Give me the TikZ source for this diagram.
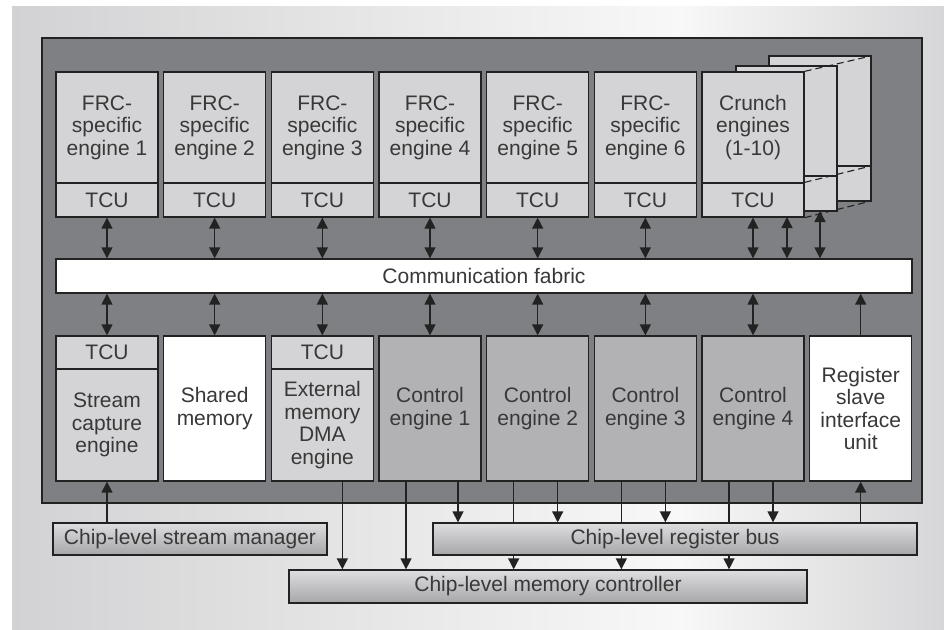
\documentclass[tikz,border=0pt]{standalone}
\usepackage{fontspec}
\setmainfont{Liberation Sans}
\usetikzlibrary{arrows.meta,calc}
\definecolor{bgL}{HTML}{D2D2D4}
\definecolor{bgM}{HTML}{F8F8F8}
\definecolor{bgR}{HTML}{D6D6D8}
\definecolor{panel}{HTML}{7F8084}
\definecolor{lightbox}{HTML}{D4D4D6}
\definecolor{midbox}{HTML}{B2B2B5}
\definecolor{ink}{HTML}{222222}
\definecolor{txt}{HTML}{383838}
\definecolor{busT}{HTML}{DEDEE0}
\definecolor{busB}{HTML}{A6A6A9}
\begin{document}
\begin{tikzpicture}[x=1pt,y=-1pt,
  box/.style={draw=ink, line width=1.3pt, inner sep=0pt, align=center, text=txt,
    font=\fontsize{21}{22.5}\selectfont},
  lbox/.style={box, fill=lightbox},
  wbox/.style={box, fill=white},
  mbox/.style={box, fill=midbox},
  bus/.style={box, top color=busT, bottom color=busB},
  upper/.style={minimum width=102pt, minimum height=111pt},
  tcu/.style={minimum width=102pt, minimum height=34pt},
  tcub/.style={minimum width=102pt, minimum height=33pt},
  body/.style={minimum width=102pt, minimum height=112pt},
  full/.style={minimum width=102pt, minimum height=145pt},
  arr/.style={draw=ink, line width=1.4pt, -{Triangle[length=11pt,width=11pt]}},
  dbl/.style={draw=ink, line width=1.4pt, {Triangle[length=11pt,width=11pt]}-{Triangle[length=11pt,width=11pt]}},
  back/.style={draw=ink, line width=1.3pt, fill=lightbox},
  persp/.style={draw=ink, line width=1.1pt, dash pattern=on 7pt off 4pt}
]
\useasboundingbox (0,0) rectangle (944,629);
% background
\fill[left color=bgL, right color=bgM] (12,6) rectangle (680,629);
\fill[left color=bgM, right color=bgR] (679.5,6) rectangle (944,629);
% panel
\draw[ink, line width=1.3pt, fill=panel] (42,38) rectangle (922,503);

% stacked crunch engines (back copies)
\draw[back] (769,56) rectangle (871,201);
\draw[ink, line width=1.3pt] (769,166) -- (871,166);
\draw[back] (736,66) rectangle (837,211);
\draw[ink, line width=1.3pt] (736,176) -- (837,176);

% top row
\foreach \i in {1,...,6} {
  \pgfmathsetmacro\cx{107+(\i-1)*107.67}
  \node[lbox, upper] (e\i) at (\cx,127.5) {FRC-\\specific\\engine \i};
  \node[lbox, tcu] (t\i) at (\cx,200) {TCU};
}
\node[lbox, upper] (e7) at (753,127.5) {Crunch\\engines\\(1-10)};
\node[lbox, tcu] (t7) at (753,200) {TCU};

% perspective lines
\draw[persp] (e7.north east) -- (871,56);
\draw[persp] (t7.north east) -- (871,166);
\draw[persp] (t7.south east) -- (871,201);

% communication fabric
\node[wbox, minimum width=856pt, minimum height=34pt] (fab) at (484,276) {Communication fabric};

% bottom row
\pgfmathsetmacro\cA{107}
\pgfmathsetmacro\cB{107+107.67}
\pgfmathsetmacro\cC{107+2*107.67}
\node[lbox, tcub] (b1) at (\cA,352.5) {TCU};
\node[lbox, body] (s1) at (\cA,425) {Stream\\capture\\engine};
\node[wbox, full] (b2) at (\cB,408.5) {Shared\\memory};
\node[lbox, tcub] (b3) at (\cC,352.5) {TCU};
\node[lbox, body] (s3) at (\cC,425) {External\\memory\\DMA\\engine};
\foreach \j in {1,...,4} {
  \pgfmathsetmacro\cx{107+(\j+2)*107.67}
  \node[mbox, full] (c\j) at (\cx,408.5) {Control\\engine \j};
}
\node[wbox, full] (b8) at (107+7*107.67,408.5) {Register\\slave\\interface\\unit};

% top arrows
\foreach \i in {1,...,7} {
  \draw[dbl] (t\i.south) -- (t\i.south |- fab.north);
}
\coordinate (k2) at (787,217);
\coordinate (k3) at (820,211);
\draw[dbl] (k2) -- (k2 |- fab.north);
\draw[dbl] (k3) -- (k3 |- fab.north);

% fabric to bottom row
\draw[dbl] (fab.south -| b1.north) -- (b1.north);
\draw[dbl] (fab.south -| b2.north) -- (b2.north);
\draw[dbl] (fab.south -| b3.north) -- (b3.north);
\foreach \j in {1,...,4} {
  \draw[dbl] (fab.south -| c\j.north) -- (c\j.north);
}
\draw[arr] (b8.north) -- (b8.north |- fab.south);

% memory controller and connections (drawn before register bus)
\node[bus, minimum width=518pt, minimum height=33pt] (mc) at (548,586.5) {Chip-level memory controller};
\draw[arr] ([xshift=20pt]s3.south) -- ([xshift=20pt]s3.south |- mc.north);
\foreach \j in {1,...,4} {
  \draw[arr] ([xshift=-24pt]c\j.south) -- ([xshift=-24pt]c\j.south |- mc.north);
}

% register bus and stream manager
\node[bus, minimum width=484pt, minimum height=32pt] (rb) at (675,539) {Chip-level register bus};
\node[bus, minimum width=274pt, minimum height=32pt] (sm) at (190,539) {Chip-level stream manager};

\draw[arr] ([xshift=28pt]c1.south) -- ([xshift=28pt]c1.south |- rb.north);
\foreach \j in {2,3,4} {
  \draw[arr] ([xshift=20pt]c\j.south) -- ([xshift=20pt]c\j.south |- rb.north);
}
\draw[arr] (rb.north -| b8.south) -- (b8.south);
\draw[arr] (sm.north -| s1.south) -- (s1.south);
\end{tikzpicture}
\end{document}
